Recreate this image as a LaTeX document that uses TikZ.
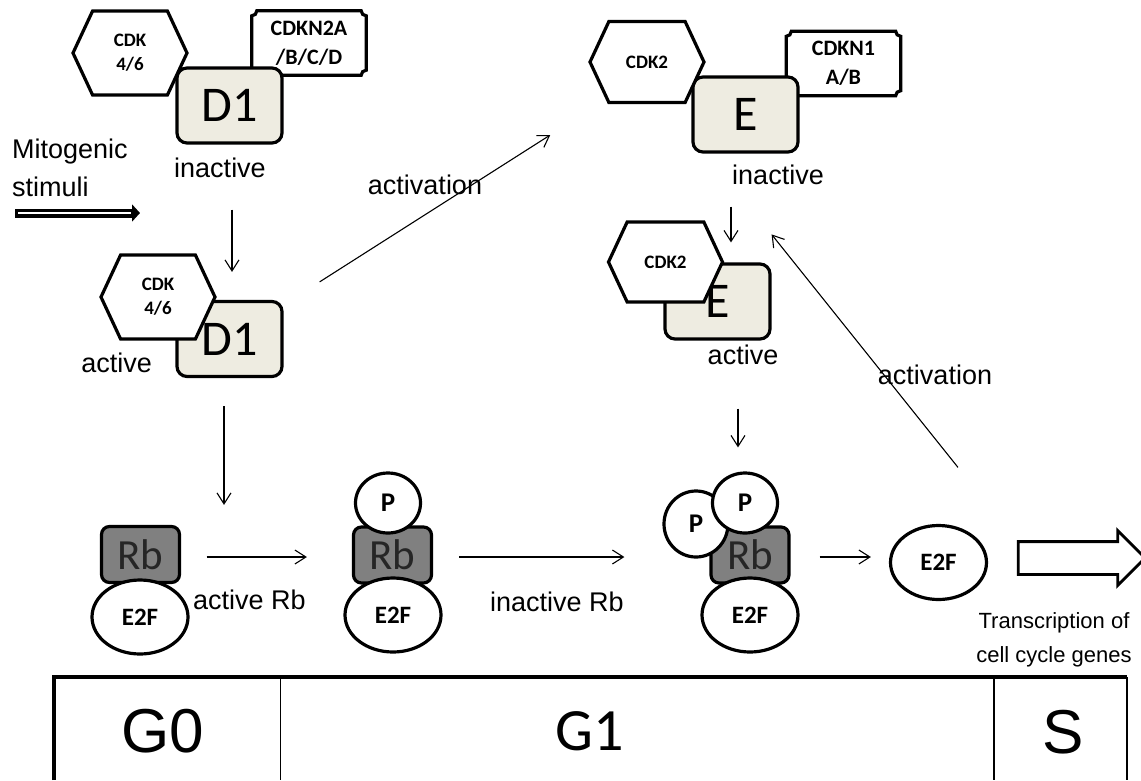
\documentclass[tikz,border=0pt]{standalone}
\usepackage{fontspec}
\setmainfont{Liberation Sans}
\newfontfamily\calibri{Carlito}
\usepackage{tikz}
\usetikzlibrary{shapes.geometric, shapes.symbols, shapes.arrows, arrows.meta, backgrounds, calc}
\definecolor{cyclinfill}{RGB}{238,236,225}
\definecolor{rbgray}{RGB}{128,128,128}

% frame with concave corners for the CDK inhibitors
\newcommand{\notchframe}[1]{%
  \begin{pgfonlayer}{background}
    \draw[line width=3.2pt, fill=white] let \p1=(#1.south west), \p2=(#1.north east) in
      (\x1+5pt,\y2) -- (\x2-5pt,\y2) arc[start angle=180,end angle=270,radius=5pt]
      -- (\x2,\y1+5pt) arc[start angle=90,end angle=180,radius=5pt]
      -- (\x1+5pt,\y1) arc[start angle=0,end angle=90,radius=5pt]
      -- (\x1,\y2-5pt) arc[start angle=270,end angle=360,radius=5pt] -- cycle;
  \end{pgfonlayer}}

\tikzset{
  lbl/.style={inner sep=0pt, font=\fontsize{27}{30}\selectfont},
  cdkhex/.style={signal, signal to=east and west, signal pointer angle=130, draw, line width=3.2pt,
    fill=white, minimum width=114pt, minimum height=84pt, inner sep=0pt, align=center,
    font=\calibri\bfseries\fontsize{19}{24}\selectfont},
  cyclin/.style={draw, line width=3.2pt, rounded corners=10pt, fill=cyclinfill,
    minimum width=105pt, minimum height=75pt, inner sep=0pt, font=\calibri\fontsize{50}{50}\selectfont},
  inhib/.style={minimum width=114pt, minimum height=64pt, align=center, inner sep=0pt,
    font=\calibri\bfseries\fontsize{22}{29}\selectfont},
  rbbox/.style={draw, line width=3.2pt, rounded corners=8pt, fill=rbgray, text=black!85,
    minimum width=78pt, minimum height=56pt, inner sep=0pt, font=\calibri\fontsize{43}{43}\selectfont},
  e2f/.style={ellipse, draw, line width=3.2pt, fill=white, minimum width=96pt, minimum height=74pt,
    inner sep=0pt, font=\calibri\bfseries\fontsize{25}{25}\selectfont},
  phos/.style={ellipse, draw, line width=3.2pt, fill=white, minimum width=65pt, minimum height=60pt,
    inner sep=0pt, font=\calibri\bfseries\fontsize{27}{27}\selectfont},
  arr/.style={-{Straight Barb[length=11pt,width=14pt]}, line width=1.1pt},
  phase/.style={inner sep=0pt, font=\fontsize{62}{62}\selectfont}
}

\begin{document}
\begin{tikzpicture}[x=1pt, y=1pt]
\useasboundingbox (0,0) rectangle (1141,-780);

% cyclin D1 complex, inactive
\node[inhib] (cdknA) at (309,-43) {CDKN2A\\/B/C/D};
\notchframe{cdknA}
\node[cyclin] (d1a) at (229.5,-105.5) {D1};
\node[cdkhex] (cdkA) at (130,-53) {CDK\\4/6};
\node[lbl] (inactA) at (220,-168) {inactive};

\node[lbl, anchor=west, align=left, font=\fontsize{27}{38}\selectfont] (mito) at (12,-168) {Mitogenic\\stimuli};
\coordinate (mitS) at (15,-213);
\coordinate (mitE) at (140,-213);
\draw[line width=9pt, -{Triangle[length=8pt,width=17pt]}] (mitS) -- (mitE);
\draw[white, line width=2.5pt] ([xshift=3pt]mitS) -- ([xshift=-9pt]mitE);

% cyclin D1 complex, active
\node[cyclin] (d1b) at (229.5,-339) {D1};
\node[cdkhex] (cdkB) at (158,-297) {CDK\\4/6};
\node[lbl, anchor=east] (actB) at (152,-363) {active};

% cyclin E complex, inactive
\node[inhib] (cdknB) at (843.5,-63.5) {CDKN1\\A/B};
\notchframe{cdknB}
\node[cyclin] (ea) at (745.5,-114.5) {E};
\node[cdkhex, minimum height=81pt] (cdk2a) at (647,-62) {CDK2};
\node[lbl] (inactE) at (778,-175) {inactive};

% cyclin E complex, active
\node[cyclin] (eb) at (717.5,-301.5) {E};
\node[cdkhex, minimum height=80pt] (cdk2b) at (665.5,-262) {CDK2};
\node[lbl] (actE) at (743,-355) {active};

% Rb / E2F
\node[rbbox] (rb1) at (140.5,-554.5) {Rb};
\node[e2f] (e2f1) at (140,-617) {E2F};
\node[lbl, anchor=west] (actRb) at (193,-600) {active Rb};

\node[rbbox] (rb2) at (392.5,-555) {Rb};
\node[e2f] (e2f2) at (393,-615) {E2F};
\node[phos] (p2) at (388,-503) {P};
\node[lbl] (inactRb) at (557,-602) {inactive Rb};

\node[rbbox] (rb3) at (750,-555) {Rb};
\node[e2f] (e2f3) at (750,-615) {E2F};
\node[phos, minimum width=64pt, minimum height=66pt] (p3a) at (696,-524) {P};
\node[phos] (p3b) at (745,-503) {P};

\node[e2f] (e2f4) at (938.5,-562.5) {E2F};
\node[single arrow, draw, line width=2.8pt, fill=white, minimum height=127pt,
  single arrow head extend=11pt, single arrow head indent=0pt, inner xsep=0pt, inner ysep=15pt] (tx) at (1073.5,-558) {};
\node[lbl, align=center, font=\fontsize{22}{34}\selectfont] (txt) at (1054,-640) {Transcription of\\cell cycle genes};

% arrows
\draw[arr] ([xshift=2.5pt,yshift=-65pt]d1a.south) -- ([xshift=2.5pt,yshift=28pt]d1b.north);
\draw[arr] ([xshift=-5.5pt,yshift=-28pt]d1b.south) -- ([xshift=83.5pt,yshift=20pt]rb1.north);
\draw[arr] ([xshift=36pt,yshift=18pt]d1b.north east) -- ([xshift=-38pt,yshift=-73pt]cdk2a.west);
\node[lbl] (actv1) at (425,-185) {activation};
\draw[arr] ([xshift=-14.5pt,yshift=-53pt]ea.south) -- ([xshift=13.5pt,yshift=20pt]eb.north);
\draw[arr] ([xshift=20.5pt,yshift=-68pt]eb.south) -- ([xshift=-7pt,yshift=24pt]p3b.north);
\draw[arr] ([xshift=25.5pt,yshift=-2.5pt]rb1.east) -- ([xshift=-45pt,yshift=-2pt]rb2.west);
\draw[arr] ([xshift=26pt,yshift=-2pt]rb2.east) -- ([xshift=-85pt,yshift=-2pt]rb3.west);
\draw[arr] ([xshift=29pt,yshift=-2pt]rb3.east) -- ([xshift=-18pt,yshift=5.5pt]e2f4.west);
\draw[arr] ([xshift=19.5pt,yshift=56.5pt]e2f4.north) -- ([yshift=28pt]eb.north east);
\node[lbl] (actv2) at (935,-375) {activation};

% cell cycle phases
\draw[line width=3.5pt] (54,-780) -- (54,-677) -- (1127,-677);
\draw[line width=2.5pt] (1127,-677) -- (1127,-780);
\draw[line width=1pt] (280,-677) -- (280,-780);
\draw[line width=1.5pt] (994,-677) -- (994,-780);
\node[phase] (g0) at (163,-731) {G0};
\node[phase, font=\calibri\fontsize{60}{60}\selectfont] (g1) at (590,-731) {G1};
\node[phase] (s) at (1063,-732) {S};
\end{tikzpicture}
\end{document}
